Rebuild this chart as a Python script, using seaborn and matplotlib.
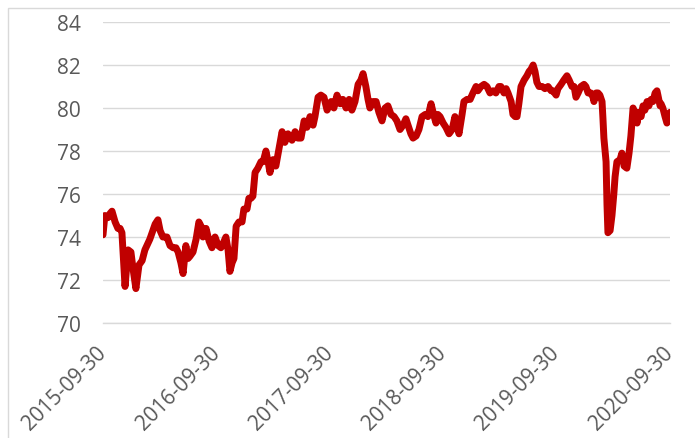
import pandas as pd
import matplotlib.pyplot as plt
from matplotlib.patches import Rectangle
import seaborn as sns

sns.set_style("white")
plt.rcParams["font.family"] = ["Open Sans", "DejaVu Sans"]

OUTPUT = "out.png"
LINE_COLOR = "#C00000"
GRID_COLOR = "#D9D9D9"
TEXT_COLOR = "#595959"

dates_2015 = ["2015-09-30", "2015-10-06", "2015-10-16", "2015-10-23", "2015-10-29",
              "2015-11-08", "2015-11-17", "2015-11-24", "2015-11-30", "2015-12-10",
              "2015-12-20", "2015-12-29"]
values_2015 = [74.1, 75.0, 74.9, 75.1, 75.2,
               74.7, 74.4, 74.4, 74.2, 71.7,
               73.4, 73.3]

dates_2016 = ["2016-01-05", "2016-01-14", "2016-01-24", "2016-02-03", "2016-02-12",
              "2016-02-28", "2016-03-16", "2016-03-25", "2016-04-01", "2016-04-10",
              "2016-04-23", "2016-05-03", "2016-05-13", "2016-05-22", "2016-05-29",
              "2016-06-07", "2016-06-14", "2016-06-23", "2016-06-30", "2016-07-06",
              "2016-07-16", "2016-07-26", "2016-08-04", "2016-08-11", "2016-08-17",
              "2016-08-27", "2016-09-06", "2016-09-15", "2016-09-25", "2016-10-05",
              "2016-10-14", "2016-10-21", "2016-10-30", "2016-11-06", "2016-11-12",
              "2016-11-19", "2016-11-25", "2016-12-02", "2016-12-11", "2016-12-21",
              "2016-12-27"]
values_2016 = [72.5, 71.6, 72.7, 72.9, 73.4,
               73.9, 74.6, 74.8, 74.3, 74.0,
               74.0, 73.6, 73.5, 73.5, 73.3,
               72.8, 72.3, 73.6, 73.0, 73.1,
               73.3, 73.9, 74.7, 74.5, 74.0,
               74.4, 73.8, 73.5, 74.0, 73.6,
               73.5, 73.7, 74.0, 73.4, 72.4,
               72.8, 73.0, 74.5, 74.7, 74.7,
               75.3]

dates_2017 = ["2017-01-06", "2017-01-12", "2017-01-19", "2017-01-25", "2017-02-01",
              "2017-02-10", "2017-02-20", "2017-02-27", "2017-03-08", "2017-03-15",
              "2017-03-21", "2017-03-31", "2017-04-09", "2017-04-19", "2017-04-29",
              "2017-05-08", "2017-05-18", "2017-05-31", "2017-06-10", "2017-06-19",
              "2017-06-29", "2017-07-09", "2017-07-18", "2017-07-28", "2017-08-07",
              "2017-08-13", "2017-08-23", "2017-09-01", "2017-09-11", "2017-09-21",
              "2017-10-04", "2017-10-13", "2017-10-23", "2017-11-02", "2017-11-11",
              "2017-11-21", "2017-12-01", "2017-12-10", "2017-12-20", "2017-12-30"]
values_2017 = [75.3, 75.8, 75.8, 75.9, 77.0,
               77.2, 77.5, 77.5, 78.0, 77.5,
               77.0, 77.6, 77.3, 78.1, 78.9,
               78.4, 78.8, 78.5, 78.9, 78.6,
               78.6, 79.4, 79.1, 79.6, 79.2,
               79.6, 80.5, 80.6, 80.5, 79.9,
               80.3, 80.0, 80.6, 80.2, 80.4,
               80.0, 80.4, 79.9, 80.3, 81.1]

dates_2018 = ["2018-01-08", "2018-01-15", "2018-01-24", "2018-01-31", "2018-02-06",
              "2018-02-16", "2018-02-26", "2018-03-07", "2018-03-17", "2018-03-27",
              "2018-04-05", "2018-04-15", "2018-04-25", "2018-05-04", "2018-05-14",
              "2018-05-24", "2018-06-02", "2018-06-09", "2018-06-18", "2018-06-25",
              "2018-07-05", "2018-07-14", "2018-07-24", "2018-08-03", "2018-08-12",
              "2018-08-22", "2018-09-01", "2018-09-07", "2018-09-13", "2018-09-20",
              "2018-09-30", "2018-10-09", "2018-10-19", "2018-10-29", "2018-11-07",
              "2018-11-14", "2018-11-20", "2018-11-30", "2018-12-06", "2018-12-16",
              "2018-12-26"]
values_2018 = [81.3, 81.6, 81.0, 80.4, 80.0,
               80.3, 80.3, 79.8, 79.4, 80.0,
               80.1, 79.7, 79.6, 79.4, 79.0,
               79.2, 79.5, 79.2, 78.8, 78.6,
               78.7, 79.0, 79.6, 79.7, 79.6,
               80.2, 79.6, 79.3, 79.7, 79.6,
               79.3, 79.1, 78.8, 79.0, 79.6,
               79.2, 78.8, 79.7, 80.3, 80.4,
               80.4]

dates_2019 = ["2019-01-04", "2019-01-14", "2019-01-20", "2019-01-30", "2019-02-09",
              "2019-02-18", "2019-02-28", "2019-03-10", "2019-03-19", "2019-03-29",
              "2019-04-04", "2019-04-14", "2019-04-21", "2019-04-27", "2019-05-07",
              "2019-05-13", "2019-05-20", "2019-05-26", "2019-06-01", "2019-06-08",
              "2019-06-18", "2019-06-27", "2019-07-04", "2019-07-10", "2019-07-17",
              "2019-07-23", "2019-07-29", "2019-08-05", "2019-08-15", "2019-08-24",
              "2019-09-03", "2019-09-13", "2019-09-19", "2019-09-29", "2019-10-05",
              "2019-10-15", "2019-10-24", "2019-11-03", "2019-11-10", "2019-11-19",
              "2019-11-26", "2019-12-02", "2019-12-09", "2019-12-18", "2019-12-28"]
values_2019 = [80.7, 81.0, 80.8, 81.0, 81.1,
               81.0, 80.7, 80.8, 80.7, 81.0,
               81.0, 80.7, 80.9, 80.7, 80.3,
               79.7, 79.6, 79.6, 80.2, 81.0,
               81.3, 81.5, 81.7, 81.8, 82.0,
               81.7, 81.2, 81.0, 81.0, 80.9,
               81.0, 80.8, 80.8, 80.6, 80.9,
               81.1, 81.3, 81.5, 81.3, 81.0,
               81.0, 80.5, 80.7, 81.0, 81.1]

dates_2020 = ["2020-01-03", "2020-01-10", "2020-01-19", "2020-01-26", "2020-01-29",
              "2020-02-05", "2020-02-11", "2020-02-17", "2020-02-24", "2020-02-27",
              "2020-03-01", "2020-03-08", "2020-03-11", "2020-03-14", "2020-03-21",
              "2020-03-27", "2020-04-02", "2020-04-06", "2020-04-12", "2020-04-22",
              "2020-04-28", "2020-05-05", "2020-05-14", "2020-05-21", "2020-05-27",
              "2020-06-03", "2020-06-09", "2020-06-16", "2020-06-22", "2020-06-29",
              "2020-07-05", "2020-07-11", "2020-07-18", "2020-07-24", "2020-07-31",
              "2020-08-06", "2020-08-13", "2020-08-19", "2020-08-22", "2020-08-29",
              "2020-09-01", "2020-09-07", "2020-09-14", "2020-09-20", "2020-09-27",
              "2020-09-30"]
values_2020 = [81.0, 80.7, 80.7, 80.5, 80.3,
               80.7, 80.7, 80.6, 80.3, 79.5,
               78.6, 77.5, 75.5, 74.2, 74.3,
               75.0, 76.0, 76.8, 77.5, 77.6,
               77.9, 77.3, 77.2, 77.9, 78.7,
               80.0, 79.8, 79.3, 79.8, 79.6,
               80.1, 79.9, 80.3, 80.1, 80.4,
               80.3, 80.7, 80.8, 80.6, 80.1,
               80.2, 80.0, 79.6, 79.3, 79.5,
               79.8]

Y_TICKS = [70, 72, 74, 76, 78, 80, 82, 84]
X_TICKS = ["2015-09-30", "2016-09-30", "2017-09-30", "2018-09-30", "2019-09-30", "2020-09-30"]


def main():
    df = pd.DataFrame({
        "date": dates_2015 + dates_2016 + dates_2017 + dates_2018 + dates_2019 + dates_2020,
        "value": values_2015 + values_2016 + values_2017 + values_2018 + values_2019 + values_2020,
    })
    df["date"] = pd.to_datetime(df["date"])

    fig = plt.figure(figsize=(6.95, 4.39), dpi=100)
    ax = fig.add_axes([103 / 695, 1 - 324 / 439, 567 / 695, 301 / 439])

    sns.lineplot(data=df, x="date", y="value", ax=ax, color=LINE_COLOR,
                 linewidth=5.0, solid_joinstyle="round", solid_capstyle="round", zorder=3)

    xt = pd.to_datetime(X_TICKS)
    ax.set_xlim(xt[0], xt[-1])
    ax.set_ylim(Y_TICKS[0], Y_TICKS[-1])
    ax.set_xticks(xt)
    ax.set_xticklabels(X_TICKS, rotation=45, ha="right", va="center",
                       rotation_mode="anchor", fontsize=15, color=TEXT_COLOR)
    ax.set_yticks(Y_TICKS)
    ax.set_yticklabels([str(v) for v in Y_TICKS], fontsize=15, color=TEXT_COLOR)
    ax.set_xlabel("")
    ax.set_ylabel("")

    ax.grid(axis="y", color=GRID_COLOR, linewidth=1.0, zorder=0)
    ax.grid(axis="x", visible=False)
    for side in ["left", "right", "top"]:
        ax.spines[side].set_visible(False)
    ax.spines["bottom"].set_color(GRID_COLOR)
    ax.spines["bottom"].set_linewidth(1.0)
    ax.tick_params(axis="x", length=5, width=1.0, color=GRID_COLOR, pad=14, direction="out")
    ax.tick_params(axis="y", length=0, pad=16)
    ax.set_axisbelow(True)

    # outer chart frame (only left and top edges are inside the crop)
    fig.add_artist(Rectangle((8 / 695, -0.2), 1.0, 1.2 - 9 / 439, fill=False,
                             edgecolor=GRID_COLOR, linewidth=1.0,
                             transform=fig.transFigure))

    plt.savefig(OUTPUT, dpi=100, facecolor="white")
    plt.close()


if __name__ == "__main__":
    main()
